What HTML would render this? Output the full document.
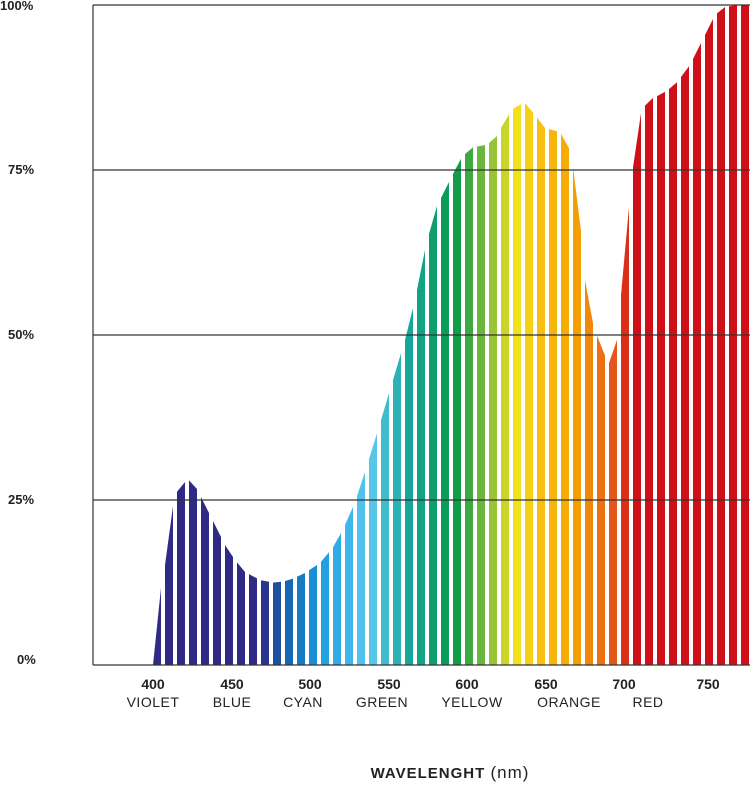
<!DOCTYPE html>
<html><head><meta charset="utf-8"><style>
body{margin:0;background:#fff;width:750px;height:787px;overflow:hidden}
svg{display:block}
text{font-family:"Liberation Sans",sans-serif;fill:#222}
</style></head><body>
<svg id="s" width="750" height="787" xmlns="http://www.w3.org/2000/svg">
<g id="bars"></g>
<g stroke="#333" stroke-width="1.2">
<line x1="93" y1="5" x2="750" y2="5"/>
<line x1="93" y1="170" x2="750" y2="170"/>
<line x1="93" y1="335" x2="750" y2="335"/>
<line x1="93" y1="500" x2="750" y2="500"/>
<line x1="93" y1="665" x2="750" y2="665"/>
<line x1="93" y1="5" x2="93" y2="665"/>
</g>
<g font-size="13" font-weight="bold">
<text x="0" y="10">100%</text>
<text x="8" y="174">75%</text>
<text x="8" y="339">50%</text>
<text x="8" y="504">25%</text>
<text x="17" y="664">0%</text>
</g>
<g font-size="14" font-weight="bold" text-anchor="middle">
<text x="153" y="689">400</text><text x="232" y="689">450</text><text x="310" y="689">500</text>
<text x="389" y="689">550</text><text x="467" y="689">600</text><text x="546" y="689">650</text>
<text x="624" y="689">700</text><text x="708" y="689">750</text>
</g>
<g font-size="14" text-anchor="middle" letter-spacing="0.5">
<text x="153" y="707">VIOLET</text><text x="232" y="707">BLUE</text><text x="303" y="707">CYAN</text>
<text x="382" y="707">GREEN</text><text x="472" y="707">YELLOW</text><text x="569" y="707">ORANGE</text>
<text x="648" y="707">RED</text>
</g>
<text x="450" y="778" font-size="15" font-weight="bold" text-anchor="middle" letter-spacing="1">WAVELENGHT <tspan font-weight="normal" font-size="17">(nm)</tspan></text>
</svg>
<script>
var P=[[153,665],[158,605],[165,565],[172,510],[178,488],[185,482],[190,480],[195,485],[205,505],[215,525],[225,545],[235,560],[245,572],[260,580],[275,583],[290,580],[305,573],[320,563],[335,545],[350,515],[360,488],[375,440],[390,390],[405,340],[415,300],[425,250],[435,210],[450,180],[460,160],[470,148],[485,145],[495,140],[505,120],[515,106],[525,103],[535,115],[545,128],[560,132],[570,150],[578,195],[585,280],[592,320],[600,345],[608,362],[612,366],[617,340],[625,250],[632,175],[640,115],[648,100],[660,95],[675,85],[690,65],[705,35],[715,15],[725,7],[735,5],[760,5]];
function Y(x){for(var i=1;i<P.length;i++){if(x<=P[i][0]){var a=P[i-1],b=P[i];return a[1]+(b[1]-a[1])*(x-a[0])/(b[0]-a[0]);}}return 5;}
var C=[[153,'#2e2a85'],[260,'#2e2a85'],[285,'#1560ad'],[320,'#1a9be0'],[370,'#5ccaf0'],[410,'#15a598'],[455,'#0a9a48'],[490,'#8cc03a'],[515,'#f2e41a'],[540,'#f8c010'],[575,'#f5a200'],[610,'#e8601a'],[635,'#d01018'],[760,'#d01018']];
function h(c){return [parseInt(c.substr(1,2),16),parseInt(c.substr(3,2),16),parseInt(c.substr(5,2),16)];}
function col(x){for(var i=1;i<C.length;i++){if(x<=C[i][0]){var a=C[i-1],b=C[i],t=(x-a[0])/(b[0]-a[0]);var A=h(a[1]),B=h(b[1]);return 'rgb('+A.map(function(v,k){return Math.round(v+(B[k]-v)*t)}).join(',')+')';}}return '#d01018';}
var g=document.getElementById('bars'),s='';
for(var x=153;x<750;x+=12){var x2=Math.min(x+8,750);
s+='<polygon fill="'+col(x+4)+'" points="'+x+',665 '+x+','+Y(x).toFixed(1)+' '+x2+','+Y(x2).toFixed(1)+' '+x2+',665"/>';}
g.innerHTML=s;
</script>
</body></html>
